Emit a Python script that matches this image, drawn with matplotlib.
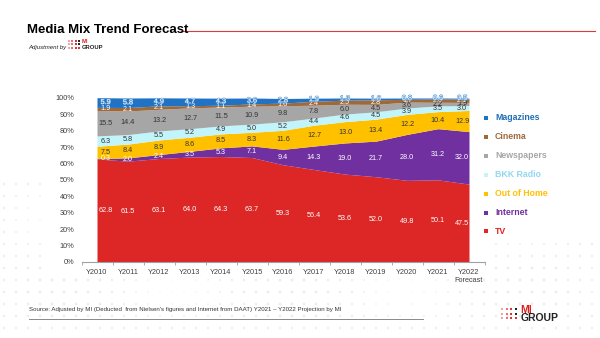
import numpy as np
import matplotlib
matplotlib.use("Agg")
import matplotlib.pyplot as plt
import matplotlib.patheffects as pe

plt.rcParams['font.family'] = ['Liberation Sans', 'DejaVu Sans']

years = ["Y2010", "Y2011", "Y2012", "Y2013", "Y2014", "Y2015", "Y2016",
         "Y2017", "Y2018", "Y2019", "Y2020", "Y2021", "Y2022\nForecast"]

# shares in %, stacked bottom -> top
tv = [62.8, 61.5, 63.1, 64.0, 64.3, 63.7, 59.3, 56.4, 53.6, 52.0, 49.8, 50.1, 47.5]
internet = [0.3, 2.0, 2.4, 3.5, 5.3, 7.1, 9.4, 14.3, 19.0, 21.7, 28.0, 31.2, 32.0]
out_of_home = [7.5, 8.4, 8.9, 8.6, 8.5, 8.3, 11.6, 12.7, 13.0, 13.4, 12.2, 10.4, 12.9]
bkk_radio = [6.3, 5.8, 5.5, 5.2, 4.9, 5.0, 5.2, 4.4, 4.6, 4.5, 3.9, 3.5, 3.0]
newspapers = [15.5, 14.4, 13.2, 12.7, 11.5, 10.9, 9.8, 7.8, 6.0, 4.5, 3.6, 2.2, 1.9]
cinema = [1.9, 2.1, 2.1, 1.3, 1.1, 1.4, 1.6, 2.4, 2.5, 2.8, 1.7, 2.0, 2.1]
magazines = [5.9, 5.8, 4.9, 4.7, 4.3, 3.6, 2.8, 1.9, 1.3, 1.0, 0.8, 0.6, 0.5]

series = [
    ("TV", tv, "#dc2726", "white", "#e02020"),
    ("Internet", internet, "#7030a0", "white", "#7030a0"),
    ("Out of Home", out_of_home, "#ffc000", "#333333", "#ffc000"),
    ("BKK Radio", bkk_radio, "#c2f4fb", "#333333", "#8fd8f0"),
    ("Newspapers", newspapers, "#a6a6a6", "#333333", "#a6a6a6"),
    ("Cinema", cinema, "#a0693a", "white", "#a0693a"),
    ("Magazines", magazines, "#1f72c4", "white", "#1f6fb8"),
]

W, H = 600, 338
fig = plt.figure(figsize=(6, 3.38), dpi=100)
fig.patch.set_facecolor("white")

# faint dotted background decoration
bg = fig.add_axes([0, 0, 1, 1], zorder=-5)
bg.set_xlim(0, W)
bg.set_ylim(H, 0)
bg.axis("off")
gx, gy = np.meshgrid(np.arange(4, W, 12), np.arange(4, H, 12))
gx, gy = gx.ravel(), gy.ravel()
mask = (gy > 275) | ((gx < 45) & (gy > 180)) | ((gx > 490) & (gy > 235))
sz = 2.5 + 2.0 * np.sin(gx / 37.0) * np.cos(gy / 23.0)
bg.scatter(gx[mask], gy[mask], s=sz[mask].clip(0.5), color="#ececec", lw=0)

# main chart
x = np.arange(len(years))
ax = fig.add_axes([81.5 / W, 1 - 262 / H, 403 / W, 164 / H])
bottom = np.zeros(len(years))
for name, vals, col, lab_col, _ in series:
    vals = np.array(vals)
    ax.fill_between(x, bottom, bottom + vals, color=col, lw=0)
    for i, v in enumerate(vals):
        xi = i + (0.28 if i == 0 else (-0.22 if i == len(x) - 1 else 0))
        t = ax.text(xi, bottom[i] + v / 2, f"{v:.1f}", ha="center", va="center",
                    fontsize=5.2, color=lab_col, clip_on=False)
        if name == "Magazines":
            t.set_path_effects([pe.withStroke(linewidth=0.8, foreground="#5b9bd5")])
    bottom += vals

ax.set_xlim(-0.5, len(x) - 0.5)
ax.set_ylim(0, 100)
ax.set_xticks(x)
ax.set_xticklabels(years, fontsize=5.3, color="#404040", linespacing=1.25)
ax.set_xticks(np.arange(-0.5, len(x), 1), minor=True)
ax.tick_params(axis="x", which="major", length=0, pad=5)
ax.tick_params(axis="x", which="minor", length=2.5, color="#a0a0a0", width=0.6)
ax.set_yticks(np.arange(0, 101, 10))
ax.set_yticklabels([f"{v}%" for v in range(0, 101, 10)], fontsize=5.3, color="#404040")
ax.tick_params(axis="y", length=0, pad=5)
for s in ["top", "right", "left"]:
    ax.spines[s].set_visible(False)
ax.spines["bottom"].set_color("#a0a0a0")
ax.spines["bottom"].set_linewidth(0.8)
ax.set_facecolor("none")

# legend, top entry first
for k, (name, _, col, _, txt_col) in enumerate(reversed(series)):
    yy = 118 + 18.9 * k
    bg.scatter([486], [yy], marker="s", s=9, color=col, lw=0)
    bg.text(495, yy, name, fontsize=6.3, fontweight="bold", color=txt_col,
            va="center", ha="left")

# header
bg.text(27, 30, "Media Mix Trend Forecast", fontsize=9.5, fontweight="bold",
        color="black", va="center", ha="left")
bg.plot([181, 595], [31, 31], color="#d93a3a", lw=0.8)
bg.text(28, 47, "Adjustment by", fontsize=4.3, style="italic", color="#222222",
        va="center", ha="left")


def logo(x0, y0, step, dot, fs, gap):
    reds = ["#f4a3a3", "#e57373", "#e03030", "#222222"]
    for r in range(3):
        for c in range(4):
            col = reds[c] if not (c == 3 and r == 2) else "#e03030"
            bg.scatter([x0 + c * step], [y0 + r * step], marker="s", s=dot,
                       color=col, lw=0)
    tx = x0 + 3 * step + gap
    bg.text(tx, y0 + 0.2 * step, "MI", fontsize=fs, fontweight="bold",
            color="#e02020", va="center", ha="left")
    bg.text(tx, y0 + 2.0 * step, "GROUP", fontsize=fs, fontweight="bold",
            color="#222222", va="center", ha="left")


logo(69, 41, 3.3, 1.3, 4.2, 3)

# footer
bg.text(29, 310, "Source: Adjusted by MI (Deducted  from Nielsen's figures and Internet from DAAT) "
        "Y2021 \u2013 Y2022 Projection by MI", fontsize=4.4, color="#333333",
        va="center", ha="left")
bg.plot([29, 423], [318.5, 318.5], color="#8a8a8a", lw=0.7)
logo(502, 309, 4.5, 3.0, 7.5, 5)

fig.savefig("out.png", dpi=100, facecolor="white")
